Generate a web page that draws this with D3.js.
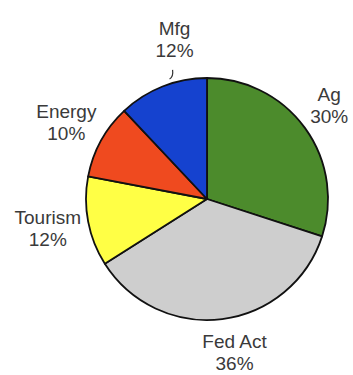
<!DOCTYPE html>
<html>
<head>
<meta charset="utf-8">
<script src="https://cdn.jsdelivr.net/npm/d3@7"></script>
<style>
  html, body { margin: 0; padding: 0; background: #ffffff; }
  svg { display: block; }
  text { font-family: "Liberation Sans", Arial, sans-serif; }
</style>
</head>
<body>
<svg id="chart" width="353" height="375"></svg>
<script>
// Share of the economy by sector (percent), clockwise from 12 o'clock
const sectors = ["Ag", "Fed Act", "Tourism", "Energy", "Mfg"];
const shares = [30, 36, 12, 10, 12];
const shareLabels = ["30%", "36%", "12%", "10%", "12%"];

// Slice fills, in sector order
const fills = ["#4c8b2c", "#cecece", "#ffff45", "#ef4a1f", "#1542cf"];

// Label nudges relative to the mid-angle anchor (same order)
const labelNudge = [[-4, -2], [8, -2], [-6, 0], [-4, -2], [25, -15]];

const width = 353, height = 375;
const cx = 207, cy = 199, radius = 121, labelRadius = 156;

const svg = d3.select("#chart");
const g = svg.append("g").attr("transform", `translate(${cx},${cy})`);

const data = sectors.map((name, i) => ({ name, value: shares[i], label: shareLabels[i], i }));

const pie = d3.pie().sort(null).value(d => d.value).startAngle(0).endAngle(2 * Math.PI);
const arcs = pie(data);

const arc = d3.arc().innerRadius(0).outerRadius(radius);
const labelArc = d3.arc().innerRadius(labelRadius).outerRadius(labelRadius);

g.selectAll("path.slice")
  .data(arcs)
  .join("path")
  .attr("class", "slice")
  .attr("d", arc)
  .attr("fill", d => fills[d.data.i])
  .attr("stroke", "#111")
  .attr("stroke-width", 1.8)
  .attr("stroke-linejoin", "round");

const labels = g.selectAll("text.lbl")
  .data(arcs)
  .join("text")
  .attr("class", "lbl")
  .attr("text-anchor", "middle")
  .attr("font-size", 19)
  .attr("fill", "#3a3a3a")
  .attr("transform", d => {
    const [x, y] = labelArc.centroid(d);
    const [nx, ny] = labelNudge[d.data.i];
    return `translate(${x + nx},${y + ny})`;
  });

labels.append("tspan").attr("x", 0).attr("y", -4).text(d => d.data.name);
labels.append("tspan").attr("x", 0).attr("y", 18).text(d => d.data.label);

// Small hooked leader from the Mfg label down to its slice
const mfg = arcs[4];
const [mx, my] = labelArc.centroid(mfg);
const lx = mx + labelNudge[4][0], ly = my + labelNudge[4][1];
const hook = d3.path();
hook.moveTo(lx - 2, ly + 31);
hook.quadraticCurveTo(lx - 1, ly + 38, lx - 5, ly + 40);
g.append("path")
  .attr("d", hook.toString())
  .attr("fill", "none")
  .attr("stroke", "#333")
  .attr("stroke-width", 1.2);
</script>
</body>
</html>
